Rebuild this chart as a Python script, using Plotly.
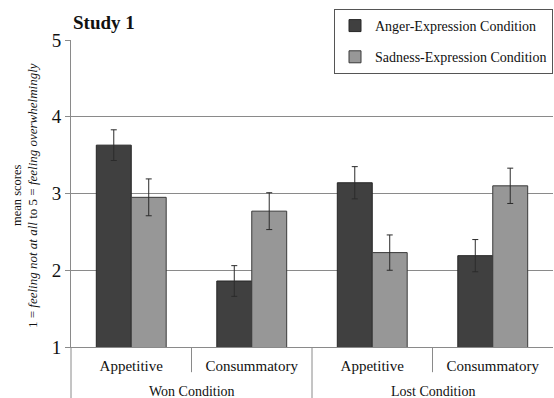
import plotly.graph_objects as go

# Study 1 mean scores by outcome and response type
groups = ["Won Condition", "Won Condition", "Lost Condition", "Lost Condition"]
responses = ["Appetitive", "Consummatory", "Appetitive", "Consummatory"]
anger_means = [3.63, 1.86, 3.14, 2.19]
anger_se = [0.20, 0.20, 0.21, 0.21]
sadness_means = [2.95, 2.77, 2.23, 3.10]
sadness_se = [0.24, 0.24, 0.23, 0.23]
y_ticks = [1, 2, 3, 4, 5]

serif = "Liberation Serif, Times New Roman, serif"
cat_ids = list(range(len(responses)))

fig = go.Figure()
fig.add_trace(go.Bar(
    x=cat_ids, y=anger_means, name="Anger-Expression Condition",
    legendgroup="a",
    marker=dict(color="#404040", line=dict(color="#262626", width=1)),
    error_y=dict(type="data", array=anger_se, color="#2b2b2b", thickness=1, width=3),
))
fig.add_trace(go.Bar(
    x=cat_ids, y=sadness_means, name="Sadness-Expression Condition",
    legendgroup="b",
    marker=dict(color="#979797", line=dict(color="#3a3a3a", width=1)),
    error_y=dict(type="data", array=sadness_se, color="#2b2b2b", thickness=1, width=3),
))

# Dividers below the category axis
line_style = dict(color="#8a8a8a", width=1)
shapes = []
for i in range(len(responses) - 1):
    same_group = groups[i] == groups[i + 1]
    shapes.append(dict(type="line", xref="x", yref="paper",
                       x0=i + 0.5, x1=i + 0.5, y0=0,
                       y1=-0.082 if same_group else -0.17,
                       line=line_style, layer="below"))
shapes.append(dict(type="line", xref="paper", yref="paper", x0=0, x1=0,
                   y0=-0.17, y1=0, line=line_style))

annotations = []
seen = []
for g in groups:
    if g in seen:
        continue
    seen.append(g)
    idx = [i for i, v in enumerate(groups) if v == g]
    annotations.append(dict(text=g, xref="x", yref="paper",
                            x=sum(idx) / len(idx), y=-0.146,
                            showarrow=False, yanchor="middle",
                            font=dict(family=serif, size=14, color="#111")))
annotations.append(dict(text="mean scores", xref="paper", yref="paper",
                        x=-0.112, y=0.495, xanchor="center", yanchor="middle",
                        textangle=-90, showarrow=False,
                        font=dict(family=serif, size=12.5, color="#111")))
annotations.append(dict(text="1 = <i>feeling not at all</i> to 5 = <i>feeling overwhelmingly</i>",
                        xref="paper", yref="paper",
                        x=-0.081, y=0.495, xanchor="center", yanchor="middle",
                        textangle=-90, showarrow=False,
                        font=dict(family=serif, size=13, color="#111")))

fig.update_layout(
    width=554, height=398,
    margin=dict(l=71, r=1, t=40, b=51),
    paper_bgcolor="white", plot_bgcolor="white",
    barmode="group", bargap=0.42, bargroupgap=0,
    title=dict(text="<b>Study 1</b>", x=73 / 554, xref="container", xanchor="left",
               y=1 - 22 / 398, yref="container", yanchor="middle",
               font=dict(family=serif, size=19, color="#111")),
    font=dict(family=serif, color="#111"),
    legend=dict(x=1, xanchor="right", y=1.101, yanchor="top",
                bordercolor="#555", borderwidth=1, bgcolor="white",
                font=dict(family=serif, size=14, color="#111"),
                tracegroupgap=10, traceorder="grouped", itemwidth=30),
    shapes=shapes, annotations=annotations,
)
fig.update_xaxes(
    tickmode="array", tickvals=cat_ids, ticktext=responses,
    range=[-0.5, len(responses) - 0.5],
    showline=True, linecolor="#8a8a8a", linewidth=1,
    showgrid=False, zeroline=False, ticks="",
    ticklabelstandoff=5,
    tickfont=dict(family=serif, size=15, color="#111"),
)
fig.update_yaxes(
    range=[1, 5], tickvals=y_ticks,
    showgrid=True, gridcolor="#8a8a8a", gridwidth=1,
    showline=True, linecolor="#8a8a8a", linewidth=1,
    ticks="outside", ticklen=5, tickcolor="#8a8a8a",
    zeroline=False,
    tickfont=dict(family=serif, size=19, color="#111"),
)

fig.write_html("out.html")
